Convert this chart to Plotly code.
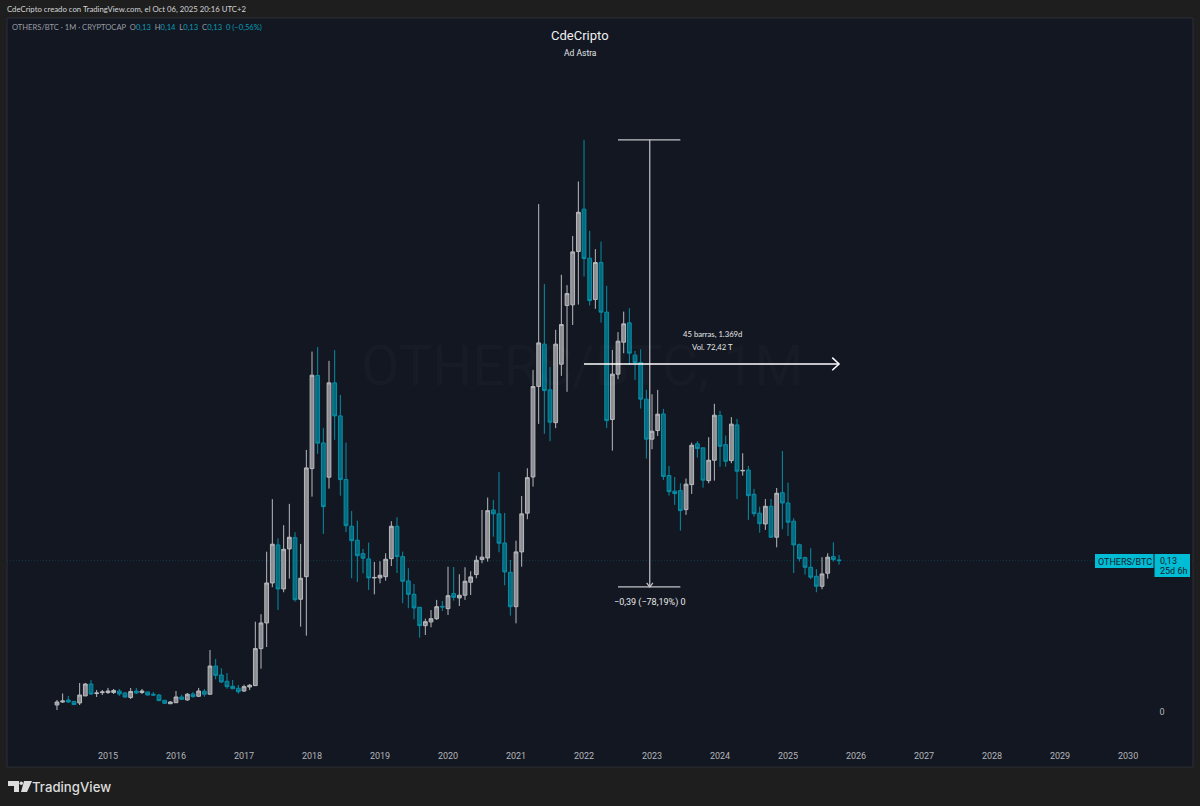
import pandas as pd
import plotly.graph_objects as go

# monthly bars, OTHERS/BTC, first bar Apr 2014
bar_dates = pd.date_range("2014-04-01", periods=139, freq="MS")
bar_index = list(range(len(bar_dates)))

opens = [.0061,.0087,.0105,.0092,.0079,.0140,.0244,.0161,.0169,.0170,.0170,.0183,.0166,.0127,.0183,.0170,.0175,.0155,.0148,.0102,
         .0072,.0081,.0131,.0105,.0157,.0137,.0181,.0155,.0401,.0323,.0268,.0224,.0207,.0183,.0218,.0230,.0553,.0777,.1126,.1458,
         .1074,.1423,.1522,.0984,.1181,.2124,.2936,.2348,.2049,.2872,.2584,.2028,.1621,.1499,.1382,.1336,.1170,.1170,.1181,.1338,
         .1621,.1356,.1144,.1027,.0914,.0753,.0786,.0814,.0921,.0902,.1033,.0995,.1019,.1132,.1199,.1330,.1344,.1763,.1729,.1475,
         .1219,.0919,.1397,.1735,.2051,.2841,.3210,.2811,.2525,.3035,.3547,.3553,.4018,.4388,.3960,.3599,.3922,.3489,.2552,.2948,
         .3227,.3396,.3114,.3049,.2730,.2381,.2456,.2601,.2063,.1927,.1932,.1766,.1984,.2340,.2305,.2019,.2197,.2587,.2333,.2194,
         .2505,.2104,.2112,.1900,.1735,.1641,.1795,.1525,.1914,.1824,.1665,.1460,.1347,.1263,.1184,.1097,.1211,.1356,.1327]
highs = [.0105,.0161,.0140,.0092,.0253,.0253,.0279,.0192,.0192,.0210,.0201,.0201,.0175,.0210,.0210,.0201,.0175,.0175,.0157,.0105,
         .0096,.0183,.0151,.0166,.0175,.0210,.0201,.0541,.0463,.0382,.0340,.0279,.0236,.0238,.0244,.0788,.0853,.1399,.1857,.1516,
         .1630,.1816,.1569,.1467,.2287,.3145,.3184,.2477,.3064,.3158,.2767,.2351,.1755,.1670,.1423,.1478,.1309,.1315,.1385,.1665,
         .1700,.1399,.1255,.1117,.0917,.0814,.0890,.0978,.0969,.1268,.1266,.1202,.1263,.1228,.1364,.1763,.1871,.1851,.2095,.1737,
         .1327,.1495,.1885,.2127,.2985,.4432,.3734,.3012,.3335,.3815,.3725,.4154,.4629,.4993,.4199,.4039,.4105,.3719,.3160,.3315,
         .3494,.3524,.3151,.3166,.2811,.2773,.2811,.2645,.2147,.2051,.1996,.2037,.2351,.2363,.2305,.2398,.2689,.2628,.2412,.2573,
         .2558,.2258,.2147,.1947,.1792,.1859,.1859,.1955,.2278,.2001,.1691,.1469,.1356,.1429,.1246,.1351,.1385,.1481,.1371]
lows = [.0017,.0079,.0079,.0065,.0061,.0140,.0148,.0131,.0148,.0157,.0157,.0140,.0122,.0113,.0157,.0157,.0144,.0140,.0096,.0070,
        .0070,.0079,.0105,.0099,.0125,.0131,.0134,.0151,.0285,.0253,.0203,.0198,.0160,.0175,.0192,.0227,.0378,.0567,.1089,.0890,
        .1045,.1164,.0963,.0745,.0666,.1879,.2252,.1554,.1949,.2375,.1888,.1569,.1167,.1135,.1211,.1065,.1027,.1123,.1146,.1274,
        .1213,.0949,.0905,.0809,.0649,.0672,.0739,.0803,.0882,.0847,.0972,.0925,.0978,.1021,.1167,.1298,.1312,.1530,.1394,.1106,
        .0841,.0774,.1268,.1682,.1967,.2514,.2427,.2363,.2477,.2933,.2794,.3377,.3555,.3800,.3547,.3518,.3398,.2477,.2281,.2904,
        .3131,.3029,.2898,.2648,.2211,.2293,.2409,.2025,.1888,.1807,.1583,.1720,.1903,.2220,.1958,.1996,.2019,.2139,.2141,.2171,
        .1857,.2063,.1676,.1705,.1565,.1589,.1519,.1437,.1595,.1536,.1213,.1312,.1199,.1158,.1045,.1071,.1164,.1312,.1286]
closes = [.0087,.0096,.0087,.0065,.0148,.0244,.0157,.0166,.0175,.0183,.0188,.0157,.0131,.0179,.0166,.0183,.0148,.0148,.0099,.0076,
          .0087,.0131,.0111,.0155,.0134,.0183,.0155,.0401,.0320,.0262,.0221,.0203,.0177,.0221,.0233,.0553,.0777,.1126,.1464,.1074,
          .1420,.1525,.0980,.1167,.2130,.2939,.2346,.1792,.2872,.2584,.2028,.1626,.1495,.1364,.1342,.1170,.1174,.1193,.1333,.1621,
          .1356,.1141,.1027,.0908,.0753,.0788,.0814,.0919,.0917,.1015,.1001,.1019,.1141,.1179,.1324,.1351,.1757,.1729,.1473,.1222,
          .0919,.1397,.1729,.2045,.2840,.3221,.2805,.2529,.3210,.3381,.3651,.4015,.4361,.3957,.3590,.3922,.3489,.2543,.2948,.3236,
          .3387,.3131,.3049,.2730,.2381,.2450,.2599,.2056,.1923,.1906,.1757,.1988,.2328,.2299,.2023,.2197,.2590,.2319,.2188,.2512,
          .2101,.2108,.1888,.1731,.1643,.1795,.1525,.1909,.1824,.1656,.1458,.1338,.1263,.1176,.1097,.1205,.1351,.1330,.1321]

year_labels = [str(y) for y in range(2015, 2031)]
year_ticks = [9 + 12 * k for k in range(len(year_labels))]

last_price = .1321
# measure tool, bars and prices
measure_x_from, measure_x_to = 93, 138
measure_y_top, measure_y_bottom = .4993, .1091
measure_y_mid = .3037
measure_x_mid = 104.6
cap_left, cap_right = 99, 110

page_bg = "#1e1e1e"
chart_bg = "#121722"
grey = "#b4b5b9"
teal = "#00bcd4"
font_name = "Roboto"
small_font = "Lato"

fig = go.Figure()
fig.add_trace(go.Candlestick(
    x=bar_index, open=opens, high=highs, low=lows, close=closes,
    increasing=dict(line=dict(color="#b9babd", width=1), fillcolor="#8b8d92"),
    decreasing=dict(line=dict(color="#078ea6", width=1), fillcolor="#066a7e"),
    whiskerwidth=0, showlegend=False, hoverinfo="skip",
))

# last price line
fig.add_shape(type="line", xref="paper", x0=0, x1=1, yref="y", y0=last_price, y1=last_price,
              line=dict(color="rgba(0,188,212,0.2)", width=1, dash="1px,2px"), layer="below")

# measure tool lines
fig.add_trace(go.Scatter(x=[measure_x_mid, measure_x_mid], y=[measure_y_top, measure_y_bottom], mode="lines",
                         line=dict(color="#c4c5c8", width=1.2), showlegend=False, hoverinfo="skip"))
for cap in [measure_y_top, measure_y_bottom]:
    fig.add_trace(go.Scatter(x=[cap_left, cap_right], y=[cap, cap], mode="lines",
                             line=dict(color="#c4c5c8", width=1.2), showlegend=False, hoverinfo="skip"))
fig.add_trace(go.Scatter(x=[measure_x_mid - .55, measure_x_mid, measure_x_mid + .55],
                         y=[measure_y_bottom + .0035, measure_y_bottom, measure_y_bottom + .0035], mode="lines",
                         line=dict(color="#c4c5c8", width=1.2), showlegend=False, hoverinfo="skip"))
fig.add_trace(go.Scatter(x=[measure_x_from, measure_x_to], y=[measure_y_mid, measure_y_mid], mode="lines",
                         line=dict(color="#ffffff", width=1.5), showlegend=False, hoverinfo="skip"))
fig.add_trace(go.Scatter(x=[measure_x_to - 1.2, measure_x_to, measure_x_to - 1.2],
                         y=[measure_y_mid + .0055, measure_y_mid, measure_y_mid - .0055], mode="lines",
                         line=dict(color="#ffffff", width=1.5), showlegend=False, hoverinfo="skip"))

# frame of the chart
fig.add_shape(type="rect", xref="paper", yref="paper", x0=0, x1=1, y0=0, y1=1,
              line=dict(color="#2c2f36", width=1), layer="below")

def label(text, x, y, size, color, xanchor="left", family=font_name, weight=None):
    fig.add_annotation(text=text, x=x, y=y, xref="paper", yref="paper", showarrow=False, xanchor=xanchor,
                       yanchor="middle", font=dict(size=size, color=color, family=family, weight=weight))

def paper_x(p):
    return (p - 7) / 1186

def paper_y(p):
    return (767 - p) / 749

label("CdeCripto creado con TradingView.com, el Oct 06, 2025 20:16 UTC+2", paper_x(4.5), paper_y(8.5), 7.75, "#d4d5d7", family=small_font)
label('OTHERS/BTC · 1M · CRYPTOCAP  O<span style="color:#0a9db4">0,13</span>  H<span style="color:#0a9db4">0,14</span>'
      '  L<span style="color:#0a9db4">0,13</span>  C<span style="color:#0a9db4">0,13</span>'
      '  <span style="color:#0a9db4">0 (−0,56%)</span>', paper_x(9.5), paper_y(27), 7.6, "#9a9ca1", family=small_font)
label("CdeCripto", paper_x(580), paper_y(35), 13, "#f0f0f0", "center")
label("Ad Astra", paper_x(580), paper_y(53), 8.5, "#e4e4e4", "center")

# watermark
label("OTHERS/BTC, 1M", paper_x(582), paper_y(366), 56, "rgba(255,255,255,0.018)", "center")
label("OTHERSBTC", paper_x(560), paper_y(408), 20, "rgba(255,255,255,0.018)", "center")

label("45 barras, 1.369d", paper_x(712), paper_y(334), 7.7, "#e8e8e8", "center", family=small_font)
label("Vol. 72,42 T", paper_x(712), paper_y(347), 7.7, "#e8e8e8", "center", family=small_font)
label("−0,39 (−78,19%) 0", paper_x(650), paper_y(602), 9, "#e8e8e8", "center")

# price tag
fig.add_shape(type="rect", xref="paper", yref="paper", x0=paper_x(1095), x1=paper_x(1153.5), y0=paper_y(568), y1=paper_y(554),
              fillcolor=teal, line=dict(width=0))
fig.add_shape(type="rect", xref="paper", yref="paper", x0=paper_x(1154.5), x1=paper_x(1190), y0=paper_y(577), y1=paper_y(554),
              fillcolor=teal, line=dict(width=0))
label("OTHERS/BTC", paper_x(1096), paper_y(561.5), 9, "#12222b")
label("0,13", paper_x(1158), paper_y(561), 9, "#12222b")
label("25d 6h", paper_x(1158), paper_y(571), 9, "#12222b")

# logo, bottom left
logo_paths = [
    [(8, 781), (19, 781), (19, 792), (14, 792), (14, 786), (8, 786)],
    [(24, 781), (32, 781), (27, 792), (21, 792)],
]
for pts in logo_paths:
    path = "M " + " L ".join(f"{paper_x(a):.5f},{paper_y(b):.5f}" for a, b in pts) + " Z"
    fig.add_shape(type="path", path=path, xref="paper", yref="paper", fillcolor="#dcdcdc", line=dict(width=0))
fig.add_shape(type="circle", xref="paper", yref="paper", x0=paper_x(19.5), x1=paper_x(23), y0=paper_y(785), y1=paper_y(781.5),
              fillcolor="#dcdcdc", line=dict(width=0))
label("TradingView", paper_x(30), paper_y(787), 13.2, "#dcdcdc", family="Inter", weight=500)

fig.update_layout(
    width=1200, height=806,
    margin=dict(l=7, r=7, t=18, b=39),
    paper_bgcolor=page_bg, plot_bgcolor=chart_bg,
    boxgap=0.05,
    showlegend=False,
    font=dict(family=font_name, color="#b4b5b9", size=9),
    xaxis=dict(range=[-8.82, 200.46], tickmode="array", tickvals=year_ticks, ticktext=year_labels,
               ticklabelposition="inside", ticks="", showgrid=False, zeroline=False, showline=False,
               rangeslider=dict(visible=False), tickfont=dict(size=9, color=grey), ticklabelstandoff=3),
    yaxis=dict(range=[-.048, .6056], tickmode="array", tickvals=[0], ticktext=["0"], side="right",
               anchor="free", position=0.971, ticks="", showgrid=False, zeroline=False, showline=False,
               tickfont=dict(size=9, color=grey)),
)

# page has an 8px body margin by default, drop it so the figure sits at 0,0
fig.write_html("out.html", config=dict(displayModeBar=False), post_script="document.body.style.margin='0';")
